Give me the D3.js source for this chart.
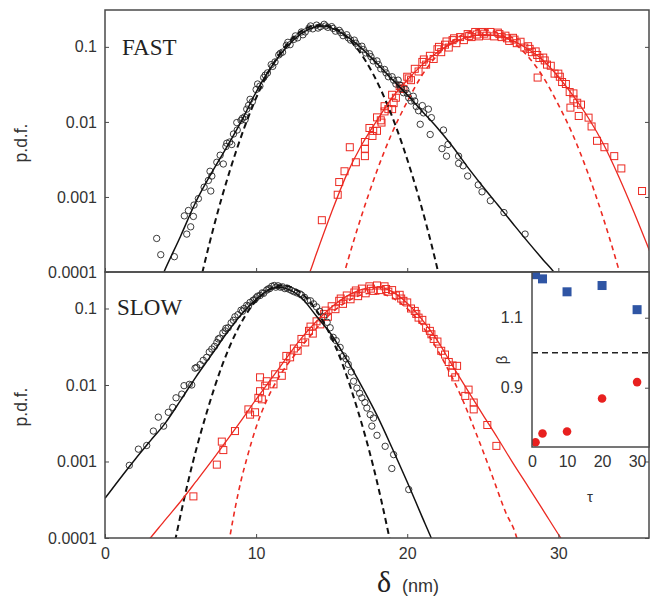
<!DOCTYPE html>
<html>
<head>
<meta charset="utf-8">
<script src="https://cdn.jsdelivr.net/npm/d3@7"></script>
<style>
  body { margin: 0; background: #fff; }
  svg { display: block; }
</style>
</head>
<body>
<svg id="plotSvg" width="652" height="604"></svg>
<script>
// ---- tick values / labels ----
const yTickValues = [0.0001, 0.001, 0.01, 0.1];
const yTickLabels = ["0.0001", "0.001", "0.01", "0.1"];
const xTickValues = [0, 10, 20, 30];
const insetXTicks = [0, 10, 20, 30];
const insetYTicks = [0.9, 1.1];

// ---- FAST panel: data points [delta, pdf] ----
const fastCircles = [
  [3.42,2.8e-4],[3.69,1.7e-4],[4.59,1.6e-4],[5.25,5.6e-4],[5.41,3.2e-4],[5.52,6.6e-4],[5.67,4.0e-4],
  [5.85,5.5e-4],[5.89,7.8e-4],[6.18,9.5e-4],[6.56,1.35e-3],[6.84,1.66e-3],[6.95,2.2e-3],[7.0,1.2e-3],
  [7.07,1.9e-3],[7.4,2.9e-3],[7.62,3.6e-3],[7.83,2.75e-3],[8.06,5.2e-3],[8.39,5.0e-3],[9.27,0.0107],
  [9.38,0.0148],[8.72,0.0098],
  [8.0,4.7e-3],[8.25,5.4e-3],[8.5,6.9e-3],[8.75,7.8e-3],[9.0,0.0105],[9.25,0.0117],[9.5,0.0166],
  [9.75,0.0186],[10.0,0.027],[10.25,0.030],[10.5,0.039],[10.75,0.045],[11.0,0.058],[11.25,0.063],
  [11.5,0.078],[11.75,0.085],[12.0,0.105],[12.25,0.107],[12.5,0.126],[12.75,0.132],[13.0,0.158],
  [13.25,0.158],[13.5,0.178],[13.75,0.174],[14.0,0.195],[14.25,0.186],[14.5,0.20],[14.75,0.182],
  [15.0,0.186],[15.25,0.162],[15.5,0.166],[15.75,0.141],[16.0,0.145],[16.25,0.123],[16.5,0.123],
  [16.75,0.102],[17.0,0.102],[17.25,0.083],[17.5,0.081],[17.75,0.065],[18.0,0.065],[18.25,0.051],
  [18.5,0.050],[18.75,0.040],[19.0,0.040],[19.25,0.032],[19.5,0.031],[19.75,0.0245],[20.0,0.024],
  [20.25,0.019],[20.5,0.019],[20.75,0.0141],
  [9.1,0.0112],[9.6,0.020],[10.1,0.032],[10.6,0.042],[11.1,0.055],[11.6,0.082],[12.1,0.115],
  [12.6,0.14],[13.1,0.145],[13.6,0.19],[14.1,0.178],[14.6,0.19],[15.1,0.176],[15.6,0.155],
  [16.1,0.132],[16.6,0.112],[17.1,0.092],[17.6,0.074],[18.1,0.058],[18.6,0.045],[19.1,0.036],
  [19.6,0.028],[20.1,0.021],[19.4,0.036],[19.9,0.027],[20.4,0.022],[20.6,0.016],[21.0,0.0165],
  [20.86,9.3e-3],[21.08,0.0132],[21.4,0.0148],[21.52,6.8e-3],[21.6,0.0114],[22.3,4.4e-3],[22.4,7.8e-3],
  [22.6,3.5e-3],[22.7,5.0e-3],[23.4,3.5e-3],[23.4,2.8e-3],[23.7,2.6e-3],[24.0,1.9e-3],[24.7,1.45e-3],
  [24.95,1.17e-3],[25.5,8.9e-4],[26.4,6.2e-4],[27.8,3.2e-4]
];

const fastSquares = [
  [14.35,4.9e-4],[15.4,1.07e-3],[15.5,1.58e-3],[15.85,2.2e-3],[16.2,4.6e-3],[16.6,2.9e-3],[17.2,3.5e-3],
  [17.2,4.4e-3],[17.2,5.4e-3],[17.7,6.5e-3],[18.0,7.6e-3],[18.3,9.8e-3],[18.5,0.0138],[19.0,0.0148],
  [19.1,0.0178],
  [17.5,8.3e-3],[17.75,7.6e-3],[18.0,0.0115],[18.25,0.0105],[18.5,0.0162],[18.75,0.0148],[19.0,0.023],
  [19.25,0.021],[19.5,0.030],[19.75,0.0275],[20.0,0.040],[20.25,0.036],[20.5,0.051],[20.75,0.047],
  [21.0,0.063],[21.25,0.058],[21.5,0.076],[21.75,0.069],[22.0,0.093],[22.25,0.085],[22.5,0.107],
  [22.75,0.098],[23.0,0.123],[23.25,0.112],[23.5,0.135],[23.75,0.123],[24.0,0.148],[24.25,0.135],
  [24.5,0.158],[24.75,0.138],[25.0,0.158],[25.25,0.141],[25.5,0.158],[25.75,0.138],[26.0,0.155],
  [26.25,0.135],[26.5,0.141],[26.75,0.12],[27.0,0.132],[27.25,0.112],[27.5,0.117],[27.75,0.098],
  [28.0,0.102],[28.25,0.085],[28.5,0.087],[28.75,0.071],[29.0,0.072],[29.25,0.058],[29.5,0.056],
  [29.75,0.044],[30.0,0.044],[30.25,0.034],[30.5,0.032],[30.75,0.025],[31.0,0.024],[31.25,0.018],
  [31.5,0.017],
  [19.6,0.028],[20.1,0.038],[21.1,0.068],[22.1,0.10],[23.1,0.13],[24.1,0.14],[25.1,0.15],[26.1,0.148],
  [27.1,0.125],[28.1,0.094],[29.1,0.066],[30.1,0.040],[22.6,0.118],[24.6,0.146],[26.6,0.13],[28.6,0.078],
  [28.63,0.039],[30.8,0.0155],[31.0,0.020],[31.35,0.012],[32.0,0.0114],[32.2,0.0087],[32.56,0.0056],
  [33.05,0.0046],[33.7,0.0035],[34.17,0.0024],[35.54,0.0012]
];

// ---- FAST panel: fitted curves ----
const fastBlackFit = [
  [3.5,6.5e-5],[3.9,1.0e-4],[5,3.0e-4],[6,8.5e-4],[7,2.0e-3],[8,4.4e-3],[9,1.0e-2],[10,2.5e-2],
  [11,5.4e-2],[12,9.8e-2],[13,0.151],[14,0.186],[14.5,0.19],[15,0.178],[16,0.138],[17,0.095],
  [18,0.060],[19,0.037],[20,0.023],[21,0.0138],[22,0.0083],[23,0.0047],[24,0.0025],[25,0.00138],
  [26,0.00078],[27,0.00044],[28,0.00025],[29,0.000145],[29.7,0.0001],[30.2,7e-5]
];
const fastBlackGauss = [
  [6.0,4.0e-5],[6.5,1.1e-4],[7.25,4.4e-4],[8.25,2.2e-3],[9.25,8.7e-3],[10.25,2.7e-2],[11.25,6.5e-2],
  [12.25,0.12],[13.25,0.175],[14.25,0.195],[15.25,0.175],[16.25,0.12],[17.25,0.065],[18.25,0.027],
  [19.25,8.7e-3],[20.25,2.2e-3],[21.25,4.4e-4],[22.0,1.1e-4],[22.5,4.0e-5]
];
const fastRedFit = [
  [13.3,7.5e-5],[13.5,9.3e-5],[14,1.78e-4],[15,6.3e-4],[16,2.0e-3],[17,5.0e-3],[18,0.0105],[19,0.021],
  [20,0.036],[21,0.058],[22,0.085],[23,0.112],[24,0.135],[25,0.145],[26,0.141],[27,0.12],[28,0.093],
  [29,0.066],[30,0.040],[31,0.022],[32,0.0112],[33,0.005],[34,0.00186],[35,6.3e-4],[36,2.0e-4],[36.5,1.12e-4]
];
const fastRedGauss = [
  [15.45,5.1e-5],[15.95,1.17e-4],[16.95,5.4e-4],[17.95,2.1e-3],[18.95,6.8e-3],[19.95,0.0178],[20.95,0.041],
  [21.95,0.076],[22.95,0.117],[23.95,0.155],[24.95,0.17],[25.95,0.155],[26.95,0.117],[27.95,0.076],
  [28.95,0.041],[29.95,0.0178],[30.95,6.8e-3],[31.95,2.1e-3],[32.95,5.4e-4],[33.95,1.17e-4],[34.45,5.1e-5]
];

// ---- SLOW panel: data points ----
const slowCircles = [
  [1.61,8.9e-4],[2.21,1.45e-3],[2.76,1.62e-3],[3.2,2.5e-3],[3.53,3.8e-3],[3.88,2.9e-3],[4.19,4.4e-3],
  [4.48,5.1e-3],[4.7,6.8e-3],[5.08,7.6e-3],[5.23,9.8e-3],[5.58,0.0102],[5.74,0.0100],[5.96,0.0166],
  [6.07,0.017],[6.3,0.0185],[6.5,0.021],[6.73,0.023],[6.9,0.027],[7.07,0.0295],[7.25,0.032],[7.4,0.036],
  [7.5,0.040],[7.6,0.041],[7.8,0.048],[7.95,0.051],[8.0,0.055],[8.15,0.056],[8.35,0.065],[8.5,0.070],
  [8.6,0.078],[8.8,0.083],[9.0,0.095],[9.1,0.092],[9.2,0.100],[9.38,0.110],[9.5,0.108],[9.6,0.120],
  [9.8,0.128],[9.9,0.130],[10.0,0.138],[10.1,0.145],[10.26,0.148],[10.4,0.160],[10.5,0.158],[10.7,0.174],
  [10.8,0.180],[10.9,0.182],[11.04,0.195],[11.2,0.200],[11.3,0.19],[11.45,0.198],[11.6,0.19],
  [11.75,0.192],[11.9,0.182],[12.05,0.185],[12.2,0.178],[12.35,0.172],[12.5,0.166],[12.7,0.160],
  [12.9,0.155],[13.0,0.150],[13.2,0.14],[13.4,0.128],[13.6,0.126],[13.8,0.115],[14.0,0.105],[14.2,0.092],
  [14.46,0.078],[14.7,0.066],[14.9,0.056],[15.1,0.042],[15.3,0.038],[15.56,0.031],[15.78,0.024],
  [15.95,0.022],[16.1,0.0186],[16.3,0.0148],[16.45,0.0112],[16.67,0.0091],[16.85,0.0078],[17.0,0.0068],
  [17.2,0.0059],[17.33,0.005],[17.55,0.0041],[17.77,0.0037],[17.66,0.0029],[18.0,0.0022],[18.54,0.00158],
  [19.1,0.00123],[18.98,0.00081],[20.1,0.00043]
];

const slowSquares = [
  [5.85,3.5e-4],[7.4,9.1e-4],[7.73,1.82e-3],[7.83,1.41e-3],[8.6,2.5e-3],[9.49,4.8e-3],[9.6,4.1e-3],
  [9.93,4.4e-3],[10.15,6.8e-3],[10.38,6.5e-3],[10.26,8.3e-3],[10.26,0.0126],[10.6,9.8e-3],[10.7,0.0112],
  [11.15,0.0102],[11.26,0.0138],[11.7,0.0132],[11.8,0.0178],
  [12.0,0.024],[12.25,0.023],[12.5,0.030],[12.75,0.028],[13.0,0.040],[13.25,0.036],[13.5,0.051],
  [13.75,0.047],[14.0,0.068],[14.25,0.062],[14.5,0.085],[14.75,0.078],[15.0,0.107],[15.25,0.098],
  [15.5,0.126],[15.75,0.115],[16.0,0.148],[16.25,0.132],[16.5,0.162],[16.75,0.145],[17.0,0.182],
  [17.25,0.158],[17.5,0.195],[17.75,0.170],[18.0,0.20],[18.25,0.174],[18.5,0.195],[18.75,0.166],
  [19.0,0.174],[19.25,0.148],[19.5,0.151],[19.75,0.126],[20.0,0.120],[20.25,0.10],[20.5,0.093],
  [20.75,0.076],[21.0,0.071],[21.25,0.056],[21.5,0.051],[21.75,0.040],[22.0,0.037],[22.25,0.028],
  [22.5,0.025],[22.75,0.020],[23.0,0.018],
  [13.6,0.058],[14.6,0.094],[15.6,0.135],[16.6,0.172],[17.6,0.182],[18.6,0.18],[19.6,0.135],
  [20.6,0.085],[21.6,0.046],
  [22.96,0.0145],[23.18,0.0126],[23.3,0.0178],[24.06,0.0087],[23.84,0.0072],[24.4,0.0059],
  [24.4,0.0048],[25.3,0.0030],[25.9,0.0016]
];

// ---- SLOW panel: fitted curves ----
const slowBlackFit = [
  [0,3.3e-4],[1,6.0e-4],[2,1.07e-3],[3,1.86e-3],[4,3.2e-3],[5,6.3e-3],[6,0.0126],[7,0.024],[8,0.046],
  [9,0.083],[10,0.132],[11,0.182],[11.5,0.19],[12,0.182],[13,0.138],[14,0.079],[15,0.045],[16,0.0214],
  [17,0.0095],[18,0.0040],[19,0.0015],[20,5.4e-4],[21,1.86e-4],[21.5,1.1e-4],[22,6.3e-5]
];
const slowBlackGauss = [
  [4.25,3.8e-5],[4.75,1.17e-4],[5.75,8.7e-4],[6.75,4.5e-3],[7.75,0.018],[8.75,0.052],[9.75,0.11],
  [10.75,0.172],[11.75,0.20],[12.75,0.172],[13.75,0.11],[14.75,0.052],[15.75,0.018],[16.75,4.5e-3],
  [17.75,8.7e-4],[18.75,1.17e-4],[19.25,3.8e-5]
];
const slowRedFit = [
  [2.7,8.5e-5],[3,1.0e-4],[4,1.74e-4],[5,3.0e-4],[6,5.4e-4],[7,9.8e-4],[8,1.82e-3],[9,3.4e-3],
  [10,6.5e-3],[11,0.012],[12,0.0224],[13,0.041],[14,0.068],[15,0.105],[16,0.145],[17,0.178],[18,0.19],
  [19,0.166],[20,0.117],[21,0.071],[22,0.038],[23,0.0178],[24,0.0085],[25,0.0041],[26,0.002],
  [27,9.5e-4],[28,4.7e-4],[29,2.3e-4],[30,1.12e-4],[30.5,7.9e-5]
];
const slowRedGauss = [
  [8.0,5.0e-5],[8.25,1.0e-4],[9.0,5.6e-4],[9.4,1.12e-3],[10.0,2.8e-3],[10.7,6.3e-3],[11.5,0.0126],
  [12.5,0.024],[13.5,0.042],[14.5,0.071],[15.5,0.105],[16.5,0.138],[17.5,0.158],[18.5,0.151],
  [19.5,0.12],[20.5,0.079],[21.5,0.042],[22.5,0.019],[23.5,7.6e-3],[24.5,2.5e-3],[25.5,7.6e-4],
  [26.5,2.2e-4],[27.25,1.0e-4],[27.6,5.0e-5]
];

// ---- inset: beta vs tau ----
const tauValues = [1, 3, 10, 20, 30];
const betaFast = [1.223, 1.211, 1.174, 1.192, 1.123];
const betaSlow = [0.744, 0.769, 0.775, 0.869, 0.916];

// ---------------------------------------------------------------
var svg = d3.select("#plotSvg");
var sansFont = "'Liberation Sans', Arial, sans-serif";
var serifFont = "'Liberation Serif', 'Times New Roman', serif";
var frameColor = "#4a4a4a";
var textColor = "#333";
var redColor = "#ec2a22";

var left = 105, right = 649;
var x = d3.scaleLinear().domain([0, 36]).range([left, right]);

var panels = [
    { name: "FAST", top: 10, bottom: 272, ymax: 0.31, labelX: 122, labelY: 55,
      circles: fastCircles, squares: fastSquares,
      blackFit: fastBlackFit, blackGauss: fastBlackGauss, redFit: fastRedFit, redGauss: fastRedGauss },
    { name: "SLOW", top: 272, bottom: 538, ymax: 0.3, labelX: 117, labelY: 315,
      circles: slowCircles, squares: slowSquares,
      blackFit: slowBlackFit, blackGauss: slowBlackGauss, redFit: slowRedFit, redGauss: slowRedGauss }
];

var defs = svg.append("defs");

panels.forEach(function (p, idx) {
    var y = d3.scaleLog().domain([1e-4, p.ymax]).range([p.bottom, p.top]);
    var clipId = "clip" + idx;
    defs.append("clipPath").attr("id", clipId)
        .append("rect")
        .attr("x", left).attr("y", p.top)
        .attr("width", right - left).attr("height", p.bottom - p.top);

    var g = svg.append("g").attr("clip-path", "url(#" + clipId + ")");

    // red squares
    g.append("g").selectAll("rect")
        .data(p.squares)
        .enter().append("rect")
        .attr("x", d => x(d[0]) - 3.5)
        .attr("y", d => y(d[1]) - 3.5)
        .attr("width", 7).attr("height", 7)
        .attr("fill", "none")
        .attr("stroke", redColor)
        .attr("stroke-width", 1);

    // black circles
    g.append("g").selectAll("circle")
        .data(p.circles)
        .enter().append("circle")
        .attr("cx", d => x(d[0]))
        .attr("cy", d => y(d[1]))
        .attr("r", 3.2)
        .attr("fill", "none")
        .attr("stroke", "#262626")
        .attr("stroke-width", 0.9);

    var line = d3.line()
        .x(d => x(d[0]))
        .y(d => y(d[1]))
        .curve(d3.curveMonotoneX);

    g.append("path").attr("d", line(p.redGauss))
        .attr("fill", "none").attr("stroke", redColor)
        .attr("stroke-width", 1.6).attr("stroke-dasharray", "5,4");
    g.append("path").attr("d", line(p.blackGauss))
        .attr("fill", "none").attr("stroke", "#111")
        .attr("stroke-width", 2).attr("stroke-dasharray", "6,4");
    g.append("path").attr("d", line(p.redFit))
        .attr("fill", "none").attr("stroke", redColor)
        .attr("stroke-width", 1.3);
    g.append("path").attr("d", line(p.blackFit))
        .attr("fill", "none").attr("stroke", "#111")
        .attr("stroke-width", 1.5);

    // axes (ticks point inward)
    var yAxis = d3.axisLeft(y)
        .tickValues(yTickValues)
        .tickFormat((d, i) => yTickLabels[i])
        .tickSizeInner(-4).tickSizeOuter(0).tickPadding(8);
    var ya = svg.append("g").attr("transform", "translate(" + left + ",0)").call(yAxis);

    var yAxisR = d3.axisRight(y).tickValues(yTickValues).tickFormat("")
        .tickSizeInner(-4).tickSizeOuter(0);
    var yr = svg.append("g").attr("transform", "translate(" + right + ",0)").call(yAxisR);

    var xAxis = d3.axisBottom(x).tickValues(xTickValues)
        .tickSizeInner(-4).tickSizeOuter(0).tickPadding(10);
    if (idx === 0) xAxis.tickFormat("");
    var xa = svg.append("g").attr("transform", "translate(0," + p.bottom + ")").call(xAxis);

    [ya, yr, xa].forEach(function (a) {
        a.select(".domain").remove();
        a.selectAll("line").attr("stroke", frameColor);
        a.selectAll("text")
            .attr("font-family", sansFont)
            .attr("font-size", 16)
            .attr("fill", textColor);
    });

    // frame
    svg.append("rect")
        .attr("x", left).attr("y", p.top)
        .attr("width", right - left).attr("height", p.bottom - p.top)
        .attr("fill", "none").attr("stroke", frameColor).attr("stroke-width", 1.5);

    svg.append("text")
        .attr("x", p.labelX).attr("y", p.labelY)
        .attr("font-family", serifFont)
        .attr("font-size", 23)
        .attr("fill", "#222")
        .text(p.name);

    svg.append("text")
        .attr("transform", "translate(27," + ((p.top + p.bottom) / 2 + 2) + ") rotate(-90)")
        .attr("text-anchor", "middle")
        .attr("font-family", sansFont)
        .attr("font-size", 17.5)
        .attr("fill", textColor)
        .text("p.d.f.");
});

// x label
svg.append("text")
    .attr("x", 377).attr("y", 592)
    .attr("font-family", serifFont)
    .attr("font-size", 30)
    .attr("fill", "#222")
    .text("δ");
svg.append("text")
    .attr("x", 402).attr("y", 592)
    .attr("font-family", sansFont)
    .attr("font-size", 18)
    .attr("fill", textColor)
    .text("(nm)");

// ---- inset ----
var ix0 = 532, ix1 = 649, iy0 = 272, iy1 = 447;
var ix = d3.scaleLinear().domain([0, 33.4]).range([ix0, ix1]);
var iy = d3.scaleLinear().domain([0.7306, 1.2306]).range([iy1, iy0]);

var inset = svg.append("g");
inset.append("rect")
    .attr("x", ix0).attr("y", iy0)
    .attr("width", ix1 - ix0).attr("height", iy1 - iy0)
    .attr("fill", "#fff");

defs.append("clipPath").attr("id", "clipInset")
    .append("rect")
    .attr("x", ix0).attr("y", iy0)
    .attr("width", ix1 - ix0).attr("height", iy1 - iy0);

var ig = inset.append("g").attr("clip-path", "url(#clipInset)");

ig.append("line")
    .attr("x1", ix0).attr("x2", ix1)
    .attr("y1", iy(1.0)).attr("y2", iy(1.0))
    .attr("stroke", "#222").attr("stroke-width", 1.6)
    .attr("stroke-dasharray", "6,4");

ig.append("g").selectAll("rect")
    .data(tauValues)
    .enter().append("rect")
    .attr("x", (d, i) => ix(d) - 4.5)
    .attr("y", (d, i) => iy(betaFast[i]) - 4.5)
    .attr("width", 9).attr("height", 9)
    .attr("fill", "#2f55a4");

ig.append("g").selectAll("circle")
    .data(tauValues)
    .enter().append("circle")
    .attr("cx", (d, i) => ix(d))
    .attr("cy", (d, i) => iy(betaSlow[i]))
    .attr("r", 4.3)
    .attr("fill", "#e8201f");

var iyAxis = d3.axisLeft(iy).tickValues(insetYTicks).tickFormat(d3.format(".1f"))
    .tickSize(0).tickPadding(9);
var iya = inset.append("g").attr("transform", "translate(" + ix0 + ",0)").call(iyAxis);
var iyAxisR = d3.axisRight(iy).tickValues(insetYTicks).tickFormat("")
    .tickSizeInner(-4).tickSizeOuter(0);
var iyr = inset.append("g").attr("transform", "translate(" + ix1 + ",0)").call(iyAxisR);
var ixAxis = d3.axisBottom(ix).tickValues(insetXTicks)
    .tickSize(0).tickPadding(9);
var ixa = inset.append("g").attr("transform", "translate(0," + iy1 + ")").call(ixAxis);

[iya, iyr, ixa].forEach(function (a) {
    a.select(".domain").remove();
    a.selectAll("line").attr("stroke", frameColor);
    a.selectAll("text")
        .attr("font-family", sansFont)
        .attr("font-size", 16)
        .attr("fill", textColor);
});

inset.append("rect")
    .attr("x", ix0).attr("y", iy0)
    .attr("width", ix1 - ix0).attr("height", iy1 - iy0)
    .attr("fill", "none").attr("stroke", frameColor).attr("stroke-width", 1.5);

inset.append("text")
    .attr("transform", "translate(507,360) rotate(-90)")
    .attr("text-anchor", "middle")
    .attr("font-family", sansFont)
    .attr("font-size", 15)
    .attr("fill", textColor)
    .text("β");

inset.append("text")
    .attr("x", 590).attr("y", 502)
    .attr("text-anchor", "middle")
    .attr("font-family", sansFont)
    .attr("font-size", 15)
    .attr("fill", textColor)
    .text("τ");
</script>
</body>
</html>
